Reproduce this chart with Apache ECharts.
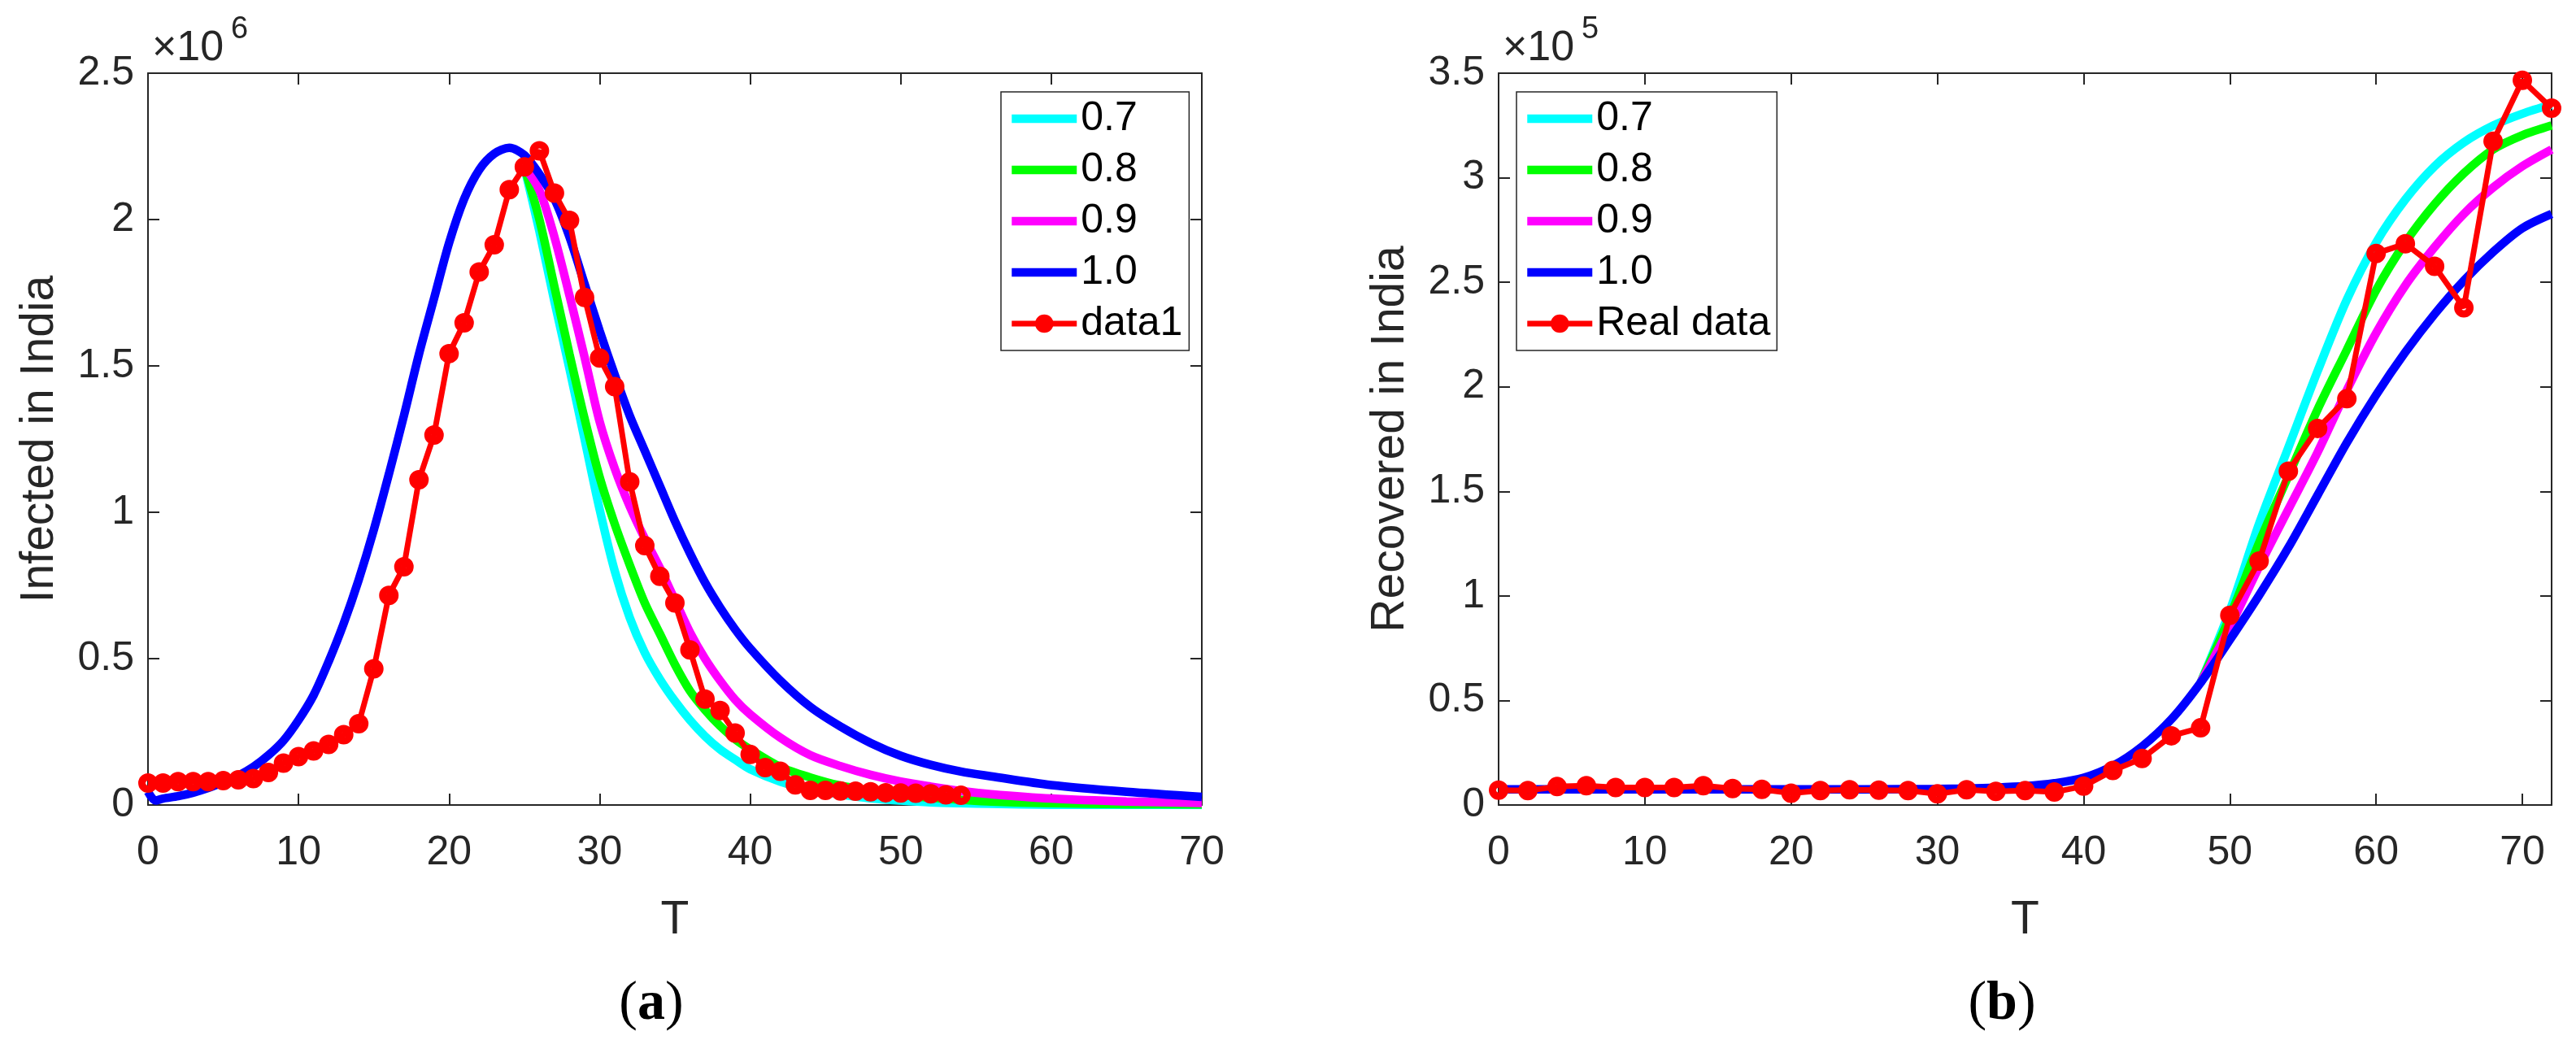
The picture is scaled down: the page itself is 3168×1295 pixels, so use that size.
<!DOCTYPE html>
<html>
<head>
<meta charset="utf-8">
<title>Infected / Recovered in India</title>
<script src="https://cdn.jsdelivr.net/npm/echarts@6/dist/echarts.min.js"></script>
<style>
  html, body { margin: 0; padding: 0; background: #fff; }
  #chart { width: 3168px; height: 1295px; }
</style>
</head>
<body>
<div id="chart"></div>
<script>
// ---- panel (a): infected, y in units of 1e6 ----
var infDays = [0,1,2,3,4,5,6,7,8,9,10,11,12,13,14,15,16,17,18,19,20,21,22,23,24,25,26,27,28,29,
               30,31,32,33,34,35,36,37,38,39,40,41,42,43,44,45,46,47,48,49,50,51,52,53,54];
var infReal = [0.075,0.075,0.08,0.08,0.08,0.083,0.086,0.09,0.111,0.143,
               0.165,0.185,0.207,0.24,0.278,0.465,0.716,0.814,1.111,1.264,
               1.542,1.647,1.821,1.914,2.102,2.18,2.235,2.09,1.997,1.734,
               1.527,1.429,1.104,0.886,0.781,0.69,0.53,0.362,0.323,0.246,
               0.173,0.128,0.115,0.069,0.05,0.05,0.048,0.047,0.045,0.042,
               0.041,0.04,0.038,0.035,0.033];

var infT10 = [0,0.5,1,2,3,4,5,6,7,8,9,10,11,12,13,14,15,16,17,18,19,20,21,22,23,24,25,26,27,28,29,
              30,31,32,33,34,35,36,37,38,39,40,42,44,46,48,50,52,54,56,60,65,70];
var inf10 = [0.045,0.015,0.022,0.03,0.042,0.058,0.078,0.1,0.13,0.17,0.22,0.29,0.375,0.49,0.62,0.77,
             0.94,1.13,1.33,1.54,1.73,1.92,2.07,2.17,2.225,2.245,2.22,2.155,2.07,1.94,1.78,
             1.62,1.47,1.33,1.21,1.09,0.97,0.86,0.76,0.675,0.6,0.535,0.425,0.335,0.268,0.212,0.168,
             0.137,0.114,0.098,0.068,0.045,0.028];

var infTfrac = [25,26,27,28,29,30,31,32,33,34,35,36,37,38,39,40,42,44,46,48,50,52,54,56,60,65,70];
var inf09 = [2.18,2.1,1.94,1.74,1.53,1.31,1.15,1.02,0.91,0.81,0.7,0.59,0.5,0.425,0.36,0.31,
             0.23,0.17,0.133,0.103,0.08,0.063,0.048,0.037,0.022,0.012,0.007];
var inf08 = [2.18,2.0,1.77,1.54,1.32,1.12,0.96,0.82,0.69,0.585,0.48,0.39,0.325,0.27,0.225,0.19,
             0.13,0.094,0.066,0.049,0.034,0.025,0.018,0.012,0.006,0.003,0.002];
var inf07 = [2.18,1.96,1.72,1.49,1.25,1.01,0.8,0.64,0.52,0.43,0.355,0.29,0.235,0.19,0.155,0.122,
             0.08,0.053,0.036,0.023,0.015,0.009,0.006,0.004,0.001,0.0005,0.0002];

// ---- panel (b): recovered, y in units of 1e5 ----
var recDays = [0,2,4,6,8,10,12,14,16,18,20,22,24,26,28,30,32,34,36,38,40,42,44,46,48,50,52,54,56,58,
               60,62,64,66,68,70,72];
var recReal = [0.071,0.069,0.088,0.092,0.084,0.084,0.084,0.092,0.079,0.075,
               0.056,0.069,0.073,0.071,0.069,0.053,0.073,0.065,0.069,0.062,
               0.09,0.165,0.223,0.331,0.369,0.907,1.167,1.596,1.801,1.943,
               2.638,2.684,2.576,2.378,3.174,3.466,3.333];

var recT10 = [0,5,10,15,20,25,30,32,34,36,38,40,42,44,46,48,50,52,54,56,58,60,62,64,66,68,70,72];
var rec10 = [0.075,0.075,0.075,0.075,0.075,0.075,0.077,0.079,0.083,0.09,0.104,0.13,0.187,0.28,0.41,0.585,
             0.79,1.003,1.231,1.482,1.733,1.961,2.166,2.348,2.508,2.645,2.759,2.827];

var recTfrac = [48,50,52,54,56,58,60,62,64,66,68,70,72];
var rec09 = [0.585,0.85,1.14,1.414,1.687,1.984,2.257,2.485,2.668,2.827,2.953,3.055,3.135];
var rec08 = [0.585,0.9,1.254,1.573,1.892,2.177,2.462,2.69,2.873,3.021,3.135,3.203,3.25];
var rec07 = [0.585,0.93,1.345,1.71,2.075,2.417,2.69,2.896,3.055,3.169,3.249,3.306,3.35];

var FONT = "'Liberation Sans', Arial, Helvetica, sans-serif";
var SERIF = "'Liberation Serif', 'Times New Roman', serif";
var AXC = '#262626';

function pairs(xs, ys) {
    return xs.map(function (x, i) { return [x, ys[i]]; });
}

function modelLine(name, color, xs, ys, ax) {
    return {
        name: name, type: 'line', xAxisIndex: ax, yAxisIndex: ax,
        data: pairs(xs, ys), symbol: 'none', smooth: 0.3,
        lineStyle: { color: color, width: 10.5 }, itemStyle: { color: color },
        emphasis: { disabled: true }, silent: true
    };
}

function realLine(name, xs, ys, ax) {
    return {
        name: name, type: 'line', xAxisIndex: ax, yAxisIndex: ax,
        data: pairs(xs, ys), symbol: 'circle', symbolSize: 15,
        lineStyle: { color: '#ff0000', width: 7 },
        itemStyle: { color: 'rgba(255,0,0,0)', borderColor: '#ff0000', borderWidth: 9 },
        emphasis: { disabled: true }, silent: true
    };
}

function xAx(grid, max, pos, name) {
    var a = {
        type: 'value', gridIndex: grid, position: pos, min: 0, max: max, interval: 10,
        axisLine: { show: true, onZero: false, lineStyle: { color: AXC, width: 2 } },
        axisTick: { show: true, inside: true, length: 14, lineStyle: { color: AXC, width: 2 } },
        splitLine: { show: false },
        axisLabel: { show: pos === 'bottom', fontSize: 50, color: AXC, fontFamily: FONT, margin: 34,
                     showMaxLabel: max === 70 }
    };
    if (name) {
        a.name = name; a.nameLocation = 'middle'; a.nameGap = 114; a.nameMoveOverlap = false;
        a.nameTextStyle = { fontSize: 57, color: AXC, fontFamily: FONT };
    }
    return a;
}

function yAx(grid, max, pos, name) {
    var a = {
        type: 'value', gridIndex: grid, position: pos, min: 0, max: max, interval: 0.5,
        axisLine: { show: true, onZero: false, lineStyle: { color: AXC, width: 2 } },
        axisTick: { show: true, inside: true, length: 14, lineStyle: { color: AXC, width: 2 } },
        splitLine: { show: false },
        axisLabel: { show: pos === 'left', fontSize: 50, color: AXC, fontFamily: FONT, margin: 17 }
    };
    if (name) {
        a.name = name; a.nameLocation = 'middle'; a.nameGap = 104; a.nameMoveOverlap = false;
        a.nameTextStyle = { fontSize: 57, color: AXC, fontFamily: FONT };
    }
    return a;
}

// model curves get a plain line in the legend, the data series keeps its marker
function legendBox(left, names, dataName) {
    var items = names.map(function (n) { return { name: n, itemStyle: { opacity: 0 } }; });
    items.push({ name: dataName });
    return {
        orient: 'vertical', left: left, top: 113,
        data: items, itemWidth: 80, itemHeight: 17, itemGap: 13,
        padding: [8, 8, 8, 8], borderColor: '#262626', borderWidth: 1.5, backgroundColor: '#fff',
        textStyle: { fontSize: 50, color: '#000', fontFamily: FONT, lineHeight: 50 },
        lineStyle: { width: 'inherit' }, itemStyle: { borderWidth: 'inherit' },
        selectedMode: false
    };
}

var chart = echarts.init(document.getElementById('chart'), null, { renderer: 'canvas' });

var option = {
    backgroundColor: '#fff',
    animation: false,
    grid: [
        { left: 182, top: 90, width: 1296, height: 900, containLabel: false, outerBoundsMode: 'none' },
        { left: 1843, top: 90, width: 1295, height: 900, containLabel: false, outerBoundsMode: 'none' }
    ],
    xAxis: [
        xAx(0, 70, 'bottom', 'T'), xAx(0, 70, 'top'),
        xAx(1, 72, 'bottom', 'T'), xAx(1, 72, 'top')
    ],
    yAxis: [
        yAx(0, 2.5, 'left', 'Infected in India'), yAx(0, 2.5, 'right'),
        yAx(1, 3.5, 'left', 'Recovered in India'), yAx(1, 3.5, 'right')
    ],
    legend: [
        legendBox(1231, ['0.7', '0.8', '0.9', '1.0'], 'data1'),
        legendBox(1865, ['0.7', '0.8', '0.9', '1.0'], 'Real data')
    ],
    series: [
        modelLine('0.7', '#00ffff', infTfrac, inf07, 0),
        modelLine('0.8', '#00ff00', infTfrac, inf08, 0),
        modelLine('0.9', '#ff00ff', infTfrac, inf09, 0),
        modelLine('1.0', '#0000ff', infT10, inf10, 0),
        realLine('data1', infDays, infReal, 0),
        modelLine('0.7', '#00ffff', recTfrac, rec07, 2),
        modelLine('0.8', '#00ff00', recTfrac, rec08, 2),
        modelLine('0.9', '#ff00ff', recTfrac, rec09, 2),
        modelLine('1.0', '#0000ff', recT10, rec10, 2),
        realLine('Real data', recDays, recReal, 2)
    ],
    graphic: [
        { type: 'text', x: 187, y: 60, style: { text: '×10', fontSize: 52, fontFamily: FONT, fill: AXC, textVerticalAlign: 'middle' } },
        { type: 'text', x: 284, y: 37, style: { text: '6', fontSize: 38, fontFamily: FONT, fill: AXC, textVerticalAlign: 'middle' } },
        { type: 'text', x: 1848, y: 60, style: { text: '×10', fontSize: 52, fontFamily: FONT, fill: AXC, textVerticalAlign: 'middle' } },
        { type: 'text', x: 1945, y: 37, style: { text: '5', fontSize: 38, fontFamily: FONT, fill: AXC, textVerticalAlign: 'middle' } },
        { type: 'text', x: 801, y: 1235, style: { text: '({b|a})', fontSize: 68, fontFamily: SERIF, fill: '#000',
            textAlign: 'center', textVerticalAlign: 'middle', rich: { b: { fontSize: 68, fontWeight: 'bold', fontFamily: SERIF } } } },
        { type: 'text', x: 2462, y: 1235, style: { text: '({b|b})', fontSize: 68, fontFamily: SERIF, fill: '#000',
            textAlign: 'center', textVerticalAlign: 'middle', rich: { b: { fontSize: 68, fontWeight: 'bold', fontFamily: SERIF } } } }
    ]
};
chart.setOption(option);
</script>
</body>
</html>
